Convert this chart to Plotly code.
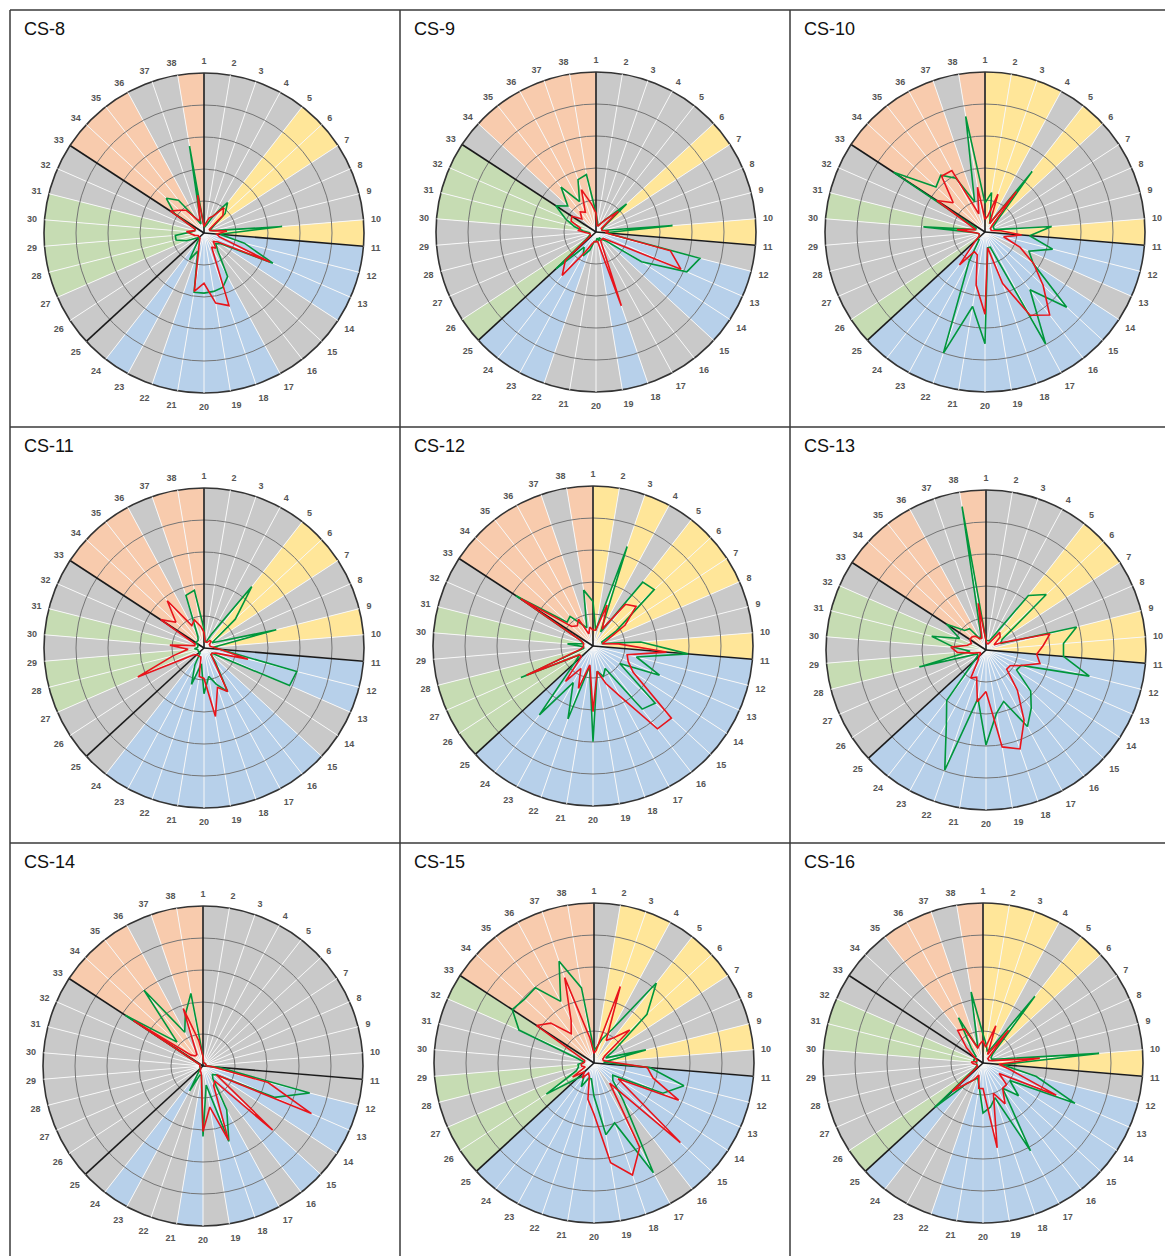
import plotly.graph_objects as go

PAGE_OFFSET = 8  # browser body margin
W, H = 1173 - PAGE_OFFSET, 1256 - PAGE_OFFSET
N_SPOKES = 38
SPOKE_LABELS = [str(k) for k in range(1, N_SPOKES + 1)]
BLACK_SPOKES = [1, 11, 25, 33]
RADIAL_MAX = 5
RING_TICKS = [1, 2, 3, 4]

# zone code per wedge k (between spoke k and spoke k+1)
ZONES_CS8 = "GGGGYYGGGY" "BBBGGGBBBB" "BGBGGGNNNN" "GGOOOGGO"
ZONES_CS9 = "GGGGGYGGGY" "GBBBGGGBGG" "GBBBNGGGGN" "NNGOOOOO"
ZONES_CS10 = "YYYGYGGGGY" "BBGBBBBBBB" "BBBBNGGGGN" "GGOOOOGO"
ZONES_CS11 = "GGGGYYGGYG" "BBGGBBBBBB" "BBBGGGNNGN" "GGOOOGOO"
ZONES_CS12 = "YGYGYYYGGY" "BBBBBBBBBB" "BBBBNNNGGN" "GGOOOOGO"
ZONES_CS13 = "GGGGYYGGYY" "BBBBBBBBBB" "BBBBGGGNGN" "NGOOOGGO"
ZONES_CS14 = "GGGGGGGGGG" "GBBGBGBBGB" "GGBGGGGGGG" "GGOOOGOO"
ZONES_CS15 = "GYYGYYGGYG" "BBBBBGBBBB" "BBBBNNGNGG" "GNOOOOOO"
ZONES_CS16 = "YYYGYGGGGY" "GBBBBBBBBB" "BGGBNGGGGN" "NGGGOOGO"

GREEN_CS8 = [0.2, 0.2, 0.3, 0.6, 1.2, 0.9, 0.3, 0.2, 0.3, 2.45, 0.5, 1.3, 2.35, 0.6, 0.5, 0.7, 1.55, 1.8, 1.85, 1.88,
             1.88, 0.6, 0.95, 0.3, 0.2, 0.3, 0.6, 0.9, 0.9, 0.4, 0.3, 0.3, 1.1, 1.6, 1.3, 0.5, 0.3, 2.75]
RED_CS8 = [0.2, 0.3, 0.5, 0.6, 1.0, 0.8, 0.2, 0.2, 0.3, 0.72, 0.4, 0.5, 2.25, 0.5, 0.4, 0.6, 0.5, 2.4, 2.22, 1.57,
           1.85, 0.5, 0.3, 0.2, 0.2, 0.2, 0.2, 0.3, 0.4, 0.55, 0.3, 0.3, 1.25, 1.05, 0.9, 0.5, 0.4, 1.2]

GREEN_CS9 = [0.6, 0.3, 0.2, 0.3, 0.5, 1.3, 0.3, 0.2, 0.2, 2.4, 0.3, 3.35, 3.1, 1.7, 0.4, 0.3, 0.2, 0.3, 0.2, 0.3,
             0.3, 0.6, 0.85, 0.6, 1.7, 0.3, 0.2, 0.2, 0.2, 0.4, 0.7, 1.05, 1.5, 1.2, 1.78, 1.08, 1.73, 1.82]
RED_CS9 = [0.6, 0.2, 0.2, 0.3, 0.5, 0.95, 0.2, 0.2, 0.2, 0.4, 0.3, 2.4, 2.9, 0.5, 0.3, 0.3, 0.3, 2.44, 0.3, 0.3,
           0.3, 0.4, 0.7, 1.72, 1.3, 0.2, 0.2, 0.2, 0.3, 0.55, 0.5, 0.85, 0.9, 0.6, 0.8, 0.7, 1.4, 0.9]

GREEN_CS10 = [0.9, 1.25, 0.5, 0.3, 2.4, 0.5, 0.3, 0.3, 0.3, 2.09, 1.4, 2.18, 1.5, 1.8, 3.47, 2.29, 3.98, 0.5, 0.5, 3.49,
              2.36, 4.0, 1.05, 0.3, 0.3, 0.2, 0.2, 0.2, 0.3, 1.93, 0.3, 0.3, 3.41, 2.08, 2.25, 1.91, 1.0, 3.66]
RED_CS10 = [0.4, 0.5, 1.25, 0.3, 1.6, 0.3, 0.2, 0.2, 0.2, 0.5, 1.15, 0.6, 1.2, 1.82, 2.47, 3.29, 2.96, 1.7, 0.5, 2.57,
            1.68, 0.75, 0.7, 1.3, 0.4, 0.2, 0.2, 0.2, 0.3, 0.88, 0.3, 0.5, 1.8, 1.35, 2.21, 2.18, 0.6, 1.42]

GREEN_CS11 = [0.6, 0.2, 0.2, 0.5, 2.43, 1.33, 0.3, 0.5, 2.33, 0.3, 0.5, 2.99, 2.92, 0.3, 0.3, 0.6, 1.55, 1.2, 0.9, 1.43,
              0.5, 1.2, 0.6, 0.2, 0.2, 0.2, 0.2, 0.2, 0.3, 0.2, 0.2, 0.2, 0.3, 0.3, 0.3, 0.4, 1.74, 1.83]
RED_CS11 = [0.5, 0.2, 0.2, 0.2, 0.3, 0.3, 0.2, 0.2, 0.2, 0.3, 0.5, 1.42, 0.4, 0.3, 0.3, 0.5, 1.55, 1.3, 2.17, 0.95,
            0.9, 0.3, 0.3, 0.3, 0.3, 0.4, 2.26, 1.0, 0.5, 1.07, 0.3, 0.3, 1.62, 1.19, 1.87, 0.8, 0.93, 0.7]

GREEN_CS12 = [1.39, 0.5, 3.29, 0.5, 2.53, 2.6, 0.88, 0.3, 0.3, 1.5, 2.98, 1.4, 2.27, 1.0, 2.64, 2.5, 0.8, 1.0, 0.8, 2.99,
              0.65, 2.41, 1.3, 2.73, 0.8, 0.5, 2.46, 0.3, 0.3, 0.8, 0.3, 0.4, 2.88, 1.1, 1.17, 0.8, 0.6, 1.77]
RED_CS12 = [0.5, 0.5, 1.35, 0.6, 1.65, 1.83, 1.2, 0.5, 0.3, 0.8, 2.3, 1.1, 1.2, 1.5, 3.33, 3.28, 1.8, 1.24, 0.8, 2.05,
            0.6, 1.4, 0.8, 1.4, 0.5, 0.5, 2.27, 0.4, 0.3, 0.3, 0.3, 0.4, 2.7, 0.9, 0.8, 0.95, 0.4, 0.6]

GREEN_CS13 = [0.3, 0.3, 0.3, 0.5, 2.16, 2.56, 0.6, 0.5, 2.92, 2.43, 2.43, 3.33, 1.2, 1.14, 1.9, 2.3, 2.72, 1.7, 2.0, 2.97,
              1.53, 3.97, 2.6, 2.0, 0.5, 0.3, 0.3, 2.15, 0.5, 1.0, 1.75, 0.9, 1.47, 0.9, 0.84, 0.4, 0.5, 4.54]
RED_CS13 = [0.3, 0.2, 0.2, 0.3, 0.7, 0.6, 0.3, 0.6, 2.06, 1.8, 1.59, 1.74, 1.2, 0.9, 0.88, 1.6, 2.5, 3.27, 3.07, 1.3,
            1.64, 0.9, 1.0, 0.4, 0.3, 0.2, 0.2, 0.4, 0.9, 1.1, 0.6, 0.5, 0.6, 0.6, 0.55, 0.4, 0.4, 1.48]

GREEN_CS14 = [0.3, 0.1, 0.1, 0.1, 0.1, 0.1, 0.1, 0.1, 0.1, 0.1, 0.5, 3.44, 2.44, 0.5, 0.4, 0.5, 1.56, 2.49, 0.6, 2.2,
              0.3, 0.3, 0.88, 0.2, 0.1, 0.1, 0.1, 0.1, 0.1, 0.1, 0.1, 0.1, 2.9, 1.1, 3.0, 1.2, 1.7, 2.3]
RED_CS14 = [0.3, 0.1, 0.1, 0.1, 0.1, 0.1, 0.1, 0.1, 0.1, 0.1, 0.3, 2.1, 3.7, 0.5, 2.96, 0.6, 0.7, 2.45, 1.3, 2.05,
            0.3, 0.2, 0.2, 0.1, 0.1, 0.1, 0.1, 0.1, 0.1, 0.1, 0.1, 0.1, 2.6, 0.5, 0.4, 0.4, 1.9, 0.8]

GREEN_CS15 = [0.4, 0.5, 0.8, 1.2, 3.17, 2.25, 0.8, 0.4, 1.67, 0.3, 1.75, 2.9, 2.35, 0.7, 0.8, 1.5, 3.9, 1.98, 2.27, 1.04,
              0.5, 0.5, 0.84, 0.5, 0.7, 1.78, 0.6, 0.5, 0.5, 0.3, 0.5, 2.56, 3.05, 2.95, 2.98, 2.19, 3.36, 2.38]
RED_CS15 = [0.3, 0.4, 2.53, 0.8, 1.0, 1.52, 0.4, 0.3, 0.3, 0.5, 1.67, 1.9, 2.89, 0.9, 3.67, 0.8, 3.0, 3.7, 3.16, 1.6,
            1.15, 0.45, 0.36, 0.6, 0.4, 0.8, 0.3, 0.4, 0.4, 0.3, 0.3, 0.5, 2.14, 1.84, 1.16, 1.5, 2.82, 0.8]

GREEN_CS16 = [0.9, 0.6, 0.4, 0.5, 2.64, 0.4, 0.3, 0.3, 0.5, 3.64, 0.6, 1.72, 3.14, 1.0, 1.51, 1.0, 3.12, 1.15, 1.4, 1.56,
              0.74, 0.5, 0.6, 0.8, 2.06, 0.3, 0.2, 0.2, 0.2, 0.2, 0.3, 0.3, 0.3, 0.3, 0.6, 1.61, 0.5, 2.25]
RED_CS16 = [0.7, 0.5, 1.23, 0.3, 1.3, 0.2, 0.2, 0.2, 0.3, 1.78, 0.5, 0.9, 2.5, 0.6, 1.0, 1.0, 1.45, 1.0, 2.69, 0.8,
            0.8, 0.4, 0.6, 0.8, 1.3, 0.2, 0.2, 0.2, 0.3, 0.37, 0.2, 0.2, 0.3, 0.7, 1.29, 1.2, 0.5, 0.6]

ZONE_COLORS = {"O": "#F8CBAD", "G": "#C9C9C9", "Y": "#FFE699", "B": "#B7D0EA", "N": "#C6DCB3"}
GREEN_LINE = "#00963C"
RED_LINE = "#E8141B"

PANELS = [
    ("CS-8", ZONES_CS8, GREEN_CS8, RED_CS8),
    ("CS-9", ZONES_CS9, GREEN_CS9, RED_CS9),
    ("CS-10", ZONES_CS10, GREEN_CS10, RED_CS10),
    ("CS-11", ZONES_CS11, GREEN_CS11, RED_CS11),
    ("CS-12", ZONES_CS12, GREEN_CS12, RED_CS12),
    ("CS-13", ZONES_CS13, GREEN_CS13, RED_CS13),
    ("CS-14", ZONES_CS14, GREEN_CS14, RED_CS14),
    ("CS-15", ZONES_CS15, GREEN_CS15, RED_CS15),
    ("CS-16", ZONES_CS16, GREEN_CS16, RED_CS16),
]

# layout geometry (page pixels)
COL_LEFT = [10, 400, 790]
ROW_TOP = [10, 427, 843]
CENTERS = [(204, 233), (596, 232), (985, 232),
           (204, 648), (593, 646), (986, 650),
           (203, 1066), (594, 1063), (983, 1063)]
RADIUS = 160


def px(x):
    return (x - PAGE_OFFSET) / W


def py(y):
    return 1 - (y - PAGE_OFFSET) / H


STEP = 360.0 / N_SPOKES
spoke_angles = [k * STEP for k in range(N_SPOKES)]
wedge_centers = [k * STEP + STEP / 2 for k in range(N_SPOKES)]

fig = go.Figure()
layout_polars = {}

for i, (title, zones, green, red) in enumerate(PANELS):
    cx, cy = CENTERS[i]
    dom_x = [px(cx - RADIUS), px(cx + RADIUS)]
    dom_y = [py(cy + RADIUS), py(cy - RADIUS)]
    bg_name = "polar" if i == 0 else f"polar{i + 1}"
    fg_name = f"polar{i + 10}"

    # background wedges
    fig.add_trace(go.Barpolar(
        r=[RADIAL_MAX] * N_SPOKES, theta=wedge_centers, width=[STEP] * N_SPOKES,
        marker=dict(color=[ZONE_COLORS[z] for z in zones], line=dict(width=0)),
        subplot=bg_name, showlegend=False, hoverinfo="skip"))

    # black division spokes
    th, rr = [], []
    for k in BLACK_SPOKES:
        th += [spoke_angles[k - 1], spoke_angles[k - 1], None]
        rr += [0, RADIAL_MAX, None]
    fig.add_trace(go.Scatterpolar(r=rr, theta=th, mode="lines",
                                  line=dict(color="#1a1a1a", width=1.6),
                                  subplot=fg_name, showlegend=False, hoverinfo="skip"))

    # data lines
    for vals, col in ((green, GREEN_LINE), (red, RED_LINE)):
        fig.add_trace(go.Scatterpolar(
            r=list(vals) + [vals[0]], theta=spoke_angles + [spoke_angles[0]],
            mode="lines", line=dict(color=col, width=1.6),
            subplot=fg_name, showlegend=False))

    layout_polars[bg_name] = dict(
        domain=dict(x=dom_x, y=dom_y),
        bgcolor="white",
        angularaxis=dict(
            direction="clockwise", rotation=90, tickmode="array",
            tickvals=spoke_angles, ticktext=SPOKE_LABELS,
            tickfont=dict(family="Liberation Sans, Arial", size=9, color="#555555", weight="bold"),
            ticks="outside", ticklen=5, tickcolor="rgba(0,0,0,0)",
            showgrid=False, showline=True, linecolor="#333333", linewidth=1.6),
        radialaxis=dict(range=[0, RADIAL_MAX], showticklabels=False, ticks="",
                        showgrid=False, showline=False),
    )
    # overlay subplot: grid drawn above the coloured wedges, then marks
    layout_polars[fg_name] = dict(
        domain=dict(x=dom_x, y=dom_y),
        bgcolor="rgba(0,0,0,0)",
        angularaxis=dict(direction="clockwise", rotation=90, tickmode="array",
                         tickvals=spoke_angles, showticklabels=False, ticks="",
                         showgrid=True, gridcolor="#F7F7F7", gridwidth=1.2, showline=False),
        radialaxis=dict(range=[0, RADIAL_MAX], tickvals=RING_TICKS, showticklabels=False,
                        ticks="", showgrid=True, gridcolor="#757575", gridwidth=1,
                        showline=False),
    )

annotations = []
for i, (title, *_rest) in enumerate(PANELS):
    col, row = i % 3, i // 3
    annotations.append(dict(
        text=title, x=px(COL_LEFT[col] + 12), y=py(ROW_TOP[row] + 19),
        xref="paper", yref="paper", xanchor="left", yanchor="middle", showarrow=False,
        font=dict(family="Liberation Sans, Arial", size=18, color="#111111")))

shapes = []
BORDER = dict(color="#3a3a3a", width=1.5)
for yb in ROW_TOP:
    shapes.append(dict(type="line", xref="paper", yref="paper",
                       x0=px(10), x1=1.0, y0=py(yb), y1=py(yb), line=BORDER))
for xb in COL_LEFT:
    shapes.append(dict(type="line", xref="paper", yref="paper",
                       x0=px(xb), x1=px(xb), y0=0, y1=py(10), line=BORDER))

fig.update_layout(
    width=W, height=H, margin=dict(l=0, r=0, t=0, b=0),
    paper_bgcolor="white", plot_bgcolor="white", showlegend=False,
    annotations=annotations, shapes=shapes, **layout_polars)

fig.write_html("out.html")
